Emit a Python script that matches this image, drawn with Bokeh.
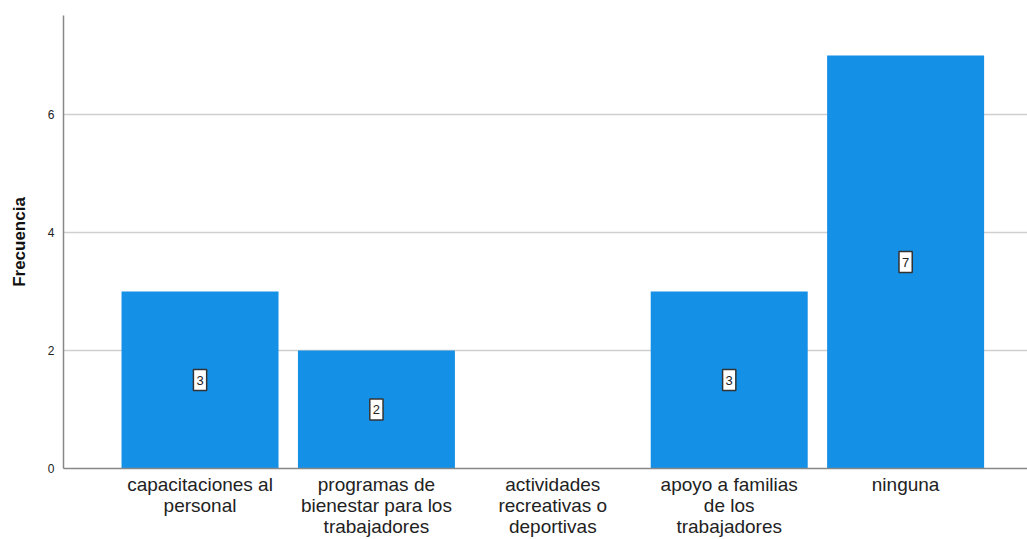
from bokeh.plotting import figure
from bokeh.models import ColumnDataSource, FixedTicker, Range1d
from bokeh.core.properties import value
from bokeh.embed import file_html
from bokeh.resources import INLINE

categories = ["capacitaciones al\npersonal",
              "programas de\nbienestar para los\ntrabajadores",
              "actividades\nrecreativas o\ndeportivas",
              "apoyo a familias\nde los\ntrabajadores",
              "ninguna"]
counts = [3, 2, 0, 3, 7]
y_ticks = [0, 2, 4, 6]

xs = list(range(len(categories)))
src = ColumnDataSource(dict(x=xs, top=counts))
lab = ColumnDataSource(dict(
    x=[x for x, c in zip(xs, counts) if c > 0],
    y=[c / 2 for c in counts if c > 0],
    t=[str(c) for c in counts if c > 0]))

p = figure(width=1027, height=539, output_backend="svg", toolbar_location=None,
           x_range=Range1d(-0.774, 4.691), y_range=Range1d(0, 7.68),
           min_border_left=63, min_border_right=0, min_border_top=15, min_border_bottom=71)
p.outline_line_color = None
p.background_fill_color = "white"

p.vbar(x="x", top="top", width=0.89, source=src, fill_color="#1490E6", line_color=None)

p.text(x="x", y="y", text="t", source=lab, text_align="center",
       text_baseline="middle", text_font_size="13px", text_color="#222222",
       text_font=value("Liberation Sans"),
       background_fill_color="white", border_line_color="#333333",
       border_line_width=1.5, padding=(3, 6))

p.xaxis.ticker = FixedTicker(ticks=xs)
p.xaxis.major_label_overrides = {i: c for i, c in enumerate(categories)}
p.xaxis.major_label_text_font = "Liberation Sans"
p.xaxis.major_label_text_font_size = "19px"
p.xaxis.major_label_text_color = "#222222"
p.xaxis.major_label_text_line_height = 1.0
p.xaxis.major_tick_line_color = None
p.xaxis.minor_tick_line_color = None
p.xaxis.major_tick_out = 0
p.xaxis.major_tick_in = 0
p.xaxis.axis_line_color = "#888888"
p.xaxis.axis_line_width = 1.5
p.xaxis.major_label_standoff = 5

p.yaxis.ticker = FixedTicker(ticks=y_ticks)
p.yaxis.major_label_text_font = "Liberation Sans"
p.yaxis.major_label_text_font_size = "12px"
p.yaxis.major_label_text_color = "#222222"
p.yaxis.major_tick_line_color = None
p.yaxis.minor_tick_line_color = None
p.yaxis.major_tick_out = 0
p.yaxis.major_tick_in = 0
p.yaxis.axis_line_color = "#888888"
p.yaxis.axis_line_width = 1.5
p.yaxis.major_label_standoff = 9
p.yaxis.axis_label = "Frecuencia"
p.yaxis.axis_label_text_font = "Liberation Sans"
p.yaxis.axis_label_text_font_size = "17px"
p.yaxis.axis_label_text_font_style = "bold"
p.yaxis.axis_label_text_color = "#111111"
p.yaxis.axis_label_standoff = 16

p.xgrid.grid_line_color = None
p.ygrid.grid_line_color = "#cfcfcf"
p.ygrid.grid_line_width = 1.5

open("out.html", "w").write(file_html(p, INLINE))
